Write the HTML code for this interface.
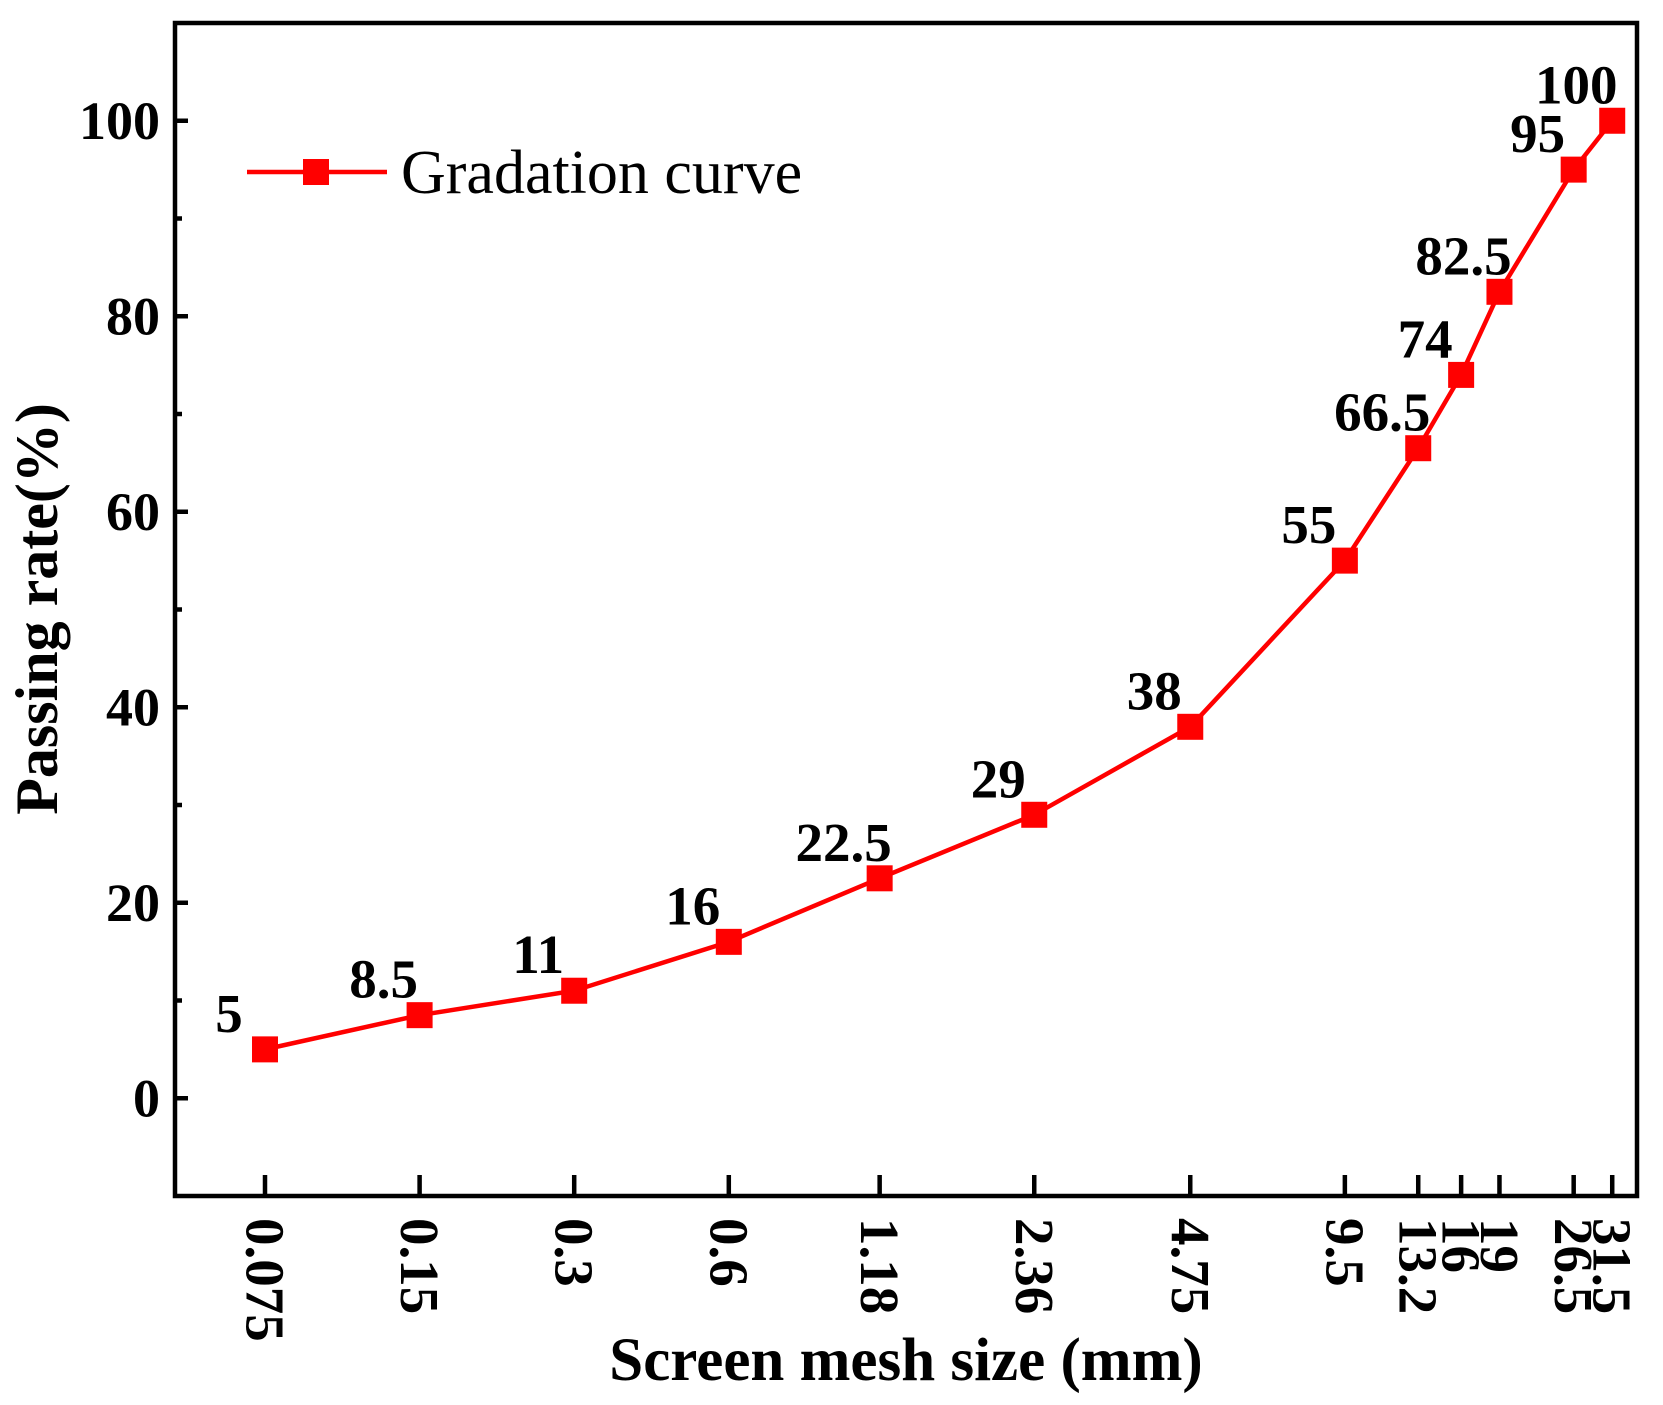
<!DOCTYPE html>
<html><head><meta charset="utf-8"><style>
html,body{margin:0;padding:0;background:#fff}
svg text{font-family:"Liberation Serif",serif}
</style></head><body>
<svg id="chart" width="1663" height="1400" viewBox="0 0 1663 1400" xmlns="http://www.w3.org/2000/svg">
<g id="plot"></g>
</svg>
<script>
const sizes=[0.075,0.15,0.3,0.6,1.18,2.36,4.75,9.5,13.2,16,19,26.5,31.5];
const sizeLabels=["0.075","0.15","0.3","0.6","1.18","2.36","4.75","9.5","13.2","16","19","26.5","31.5"];
const passing=[5,8.5,11,16,22.5,29,38,55,66.5,74,82.5,95,100];
const valueLabels=["5","8.5","11","16","22.5","29","38","55","66.5","74","82.5","95","100"];
const yTicks=[0,20,40,60,80,100];
const yMinor=[10,30,50,70,90];

const NS="http://www.w3.org/2000/svg";
const g=document.getElementById('plot');
const L=175,R=1637,T=23,B=1196;
const yMin=-10,yMax=110;
const x0=265,pxPerDouble=154.6;
function X(v){return x0+Math.log2(v/0.075)*pxPerDouble;}
function Y(v){return B-(v-yMin)/(yMax-yMin)*(B-T);}
function el(tag,attrs,parent){const e=document.createElementNS(NS,tag);for(const k in attrs)e.setAttribute(k,attrs[k]);(parent||g).appendChild(e);return e;}

const frame=el('rect',{x:L,y:T,width:R-L,height:B-T,fill:'none',stroke:'#000','stroke-width':4.5});



yTicks.forEach(v=>{
  const t=el('line',{x1:L,x2:L+13,y1:Y(v),y2:Y(v),stroke:'#000','stroke-width':4.5});
  
  
  const tx=el('text',{x:160,y:Y(v),'text-anchor':'end','dominant-baseline':'central','font-size':54,'font-weight':'bold'});
  tx.textContent=v;
  
  
});
yMinor.forEach(v=>{
  const t=el('line',{x1:L,x2:L+7,y1:Y(v),y2:Y(v),stroke:'#000','stroke-width':4.5});
  
  
});
sizes.forEach((s,i)=>{
  const t=el('line',{x1:X(s),x2:X(s),y1:B,y2:B-21,stroke:'#000','stroke-width':4.5});
  
  
  const tx=el('text',{x:0,y:0,transform:`translate(${X(s)},1218) rotate(90)`,'text-anchor':'start','dominant-baseline':'central','font-size':55,'font-weight':'bold'});
  tx.textContent=sizeLabels[i];
  
  
});
const pts=sizes.map((s,i)=>X(s)+','+Y(passing[i])).join(' ');
const pl=el('polyline',{points:pts,fill:'none',stroke:'#ff0000','stroke-width':4.5});


sizes.forEach((s,i)=>{
  const m=el('rect',{x:X(s)-13,y:Y(passing[i])-13,width:26,height:26,fill:'#ff0000'});
  
  
  const tx=el('text',{x:X(s)-36,y:Y(passing[i])-36,'text-anchor':'middle','dominant-baseline':'central','font-size':55,'font-weight':'bold'});
  tx.textContent=valueLabels[i];
  
  
});
const lg=el('g',{});


el('line',{x1:247,x2:387,y1:172,y2:172,stroke:'#ff0000','stroke-width':4.5},lg);
el('rect',{x:303,y:159,width:26,height:26,fill:'#ff0000'},lg);
const lt=el('text',{x:401,y:193,'font-size':62},lg);
lt.textContent='Gradation curve';


const xt=el('text',{x:906,y:1380,'text-anchor':'middle','font-size':61,'font-weight':'bold'});
xt.textContent='Screen mesh size (mm)';


const yt=el('text',{x:0,y:0,transform:'translate(37,609) rotate(-90)','text-anchor':'middle','dominant-baseline':'central','font-size':60,'font-weight':'bold'});
yt.textContent='Passing rate(%)';


</script>
</body></html>
